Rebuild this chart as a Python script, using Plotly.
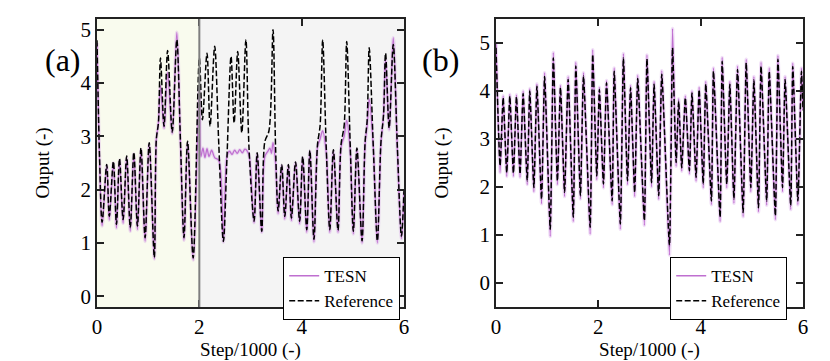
import plotly.graph_objects as go
from plotly.subplots import make_subplots

# ---------------- data ----------------
# Panel (a)
ref_a_x = [0.00, 0.05, 0.10, 0.19, 0.24, 0.32, 0.38, 0.44, 0.51, 0.58,
           0.65, 0.72, 0.79, 0.86, 0.94, 1.02, 1.12, 1.16, 1.20, 1.24,
           1.31, 1.38, 1.47, 1.56, 1.63, 1.70, 1.77, 1.88, 2.00, 2.06,
           2.15, 2.21, 2.30, 2.38, 2.47, 2.54, 2.62, 2.68, 2.75, 2.83,
           2.91, 2.97, 3.07, 3.13, 3.22, 3.28, 3.36, 3.44, 3.49, 3.54,
           3.61, 3.67, 3.74, 3.80, 3.88, 3.96, 4.02, 4.10, 4.16, 4.24,
           4.31, 4.36, 4.41, 4.48, 4.55, 4.62, 4.71, 4.77, 4.83, 4.88,
           4.95, 5.01, 5.08, 5.18, 5.24, 5.28, 5.32, 5.40, 5.48, 5.55,
           5.60, 5.64, 5.71, 5.79, 5.87, 5.95, 6.00]
ref_a_y = [4.80, 2.60, 1.39, 2.47, 1.50, 2.53, 1.35, 2.58, 1.44, 2.63,
           1.29, 2.70, 1.32, 2.78, 1.10, 2.88, 0.73, 2.95, 3.25, 4.47,
           3.19, 4.61, 3.08, 4.81, 2.94, 1.10, 2.91, 0.72, 4.47, 3.31,
           4.56, 3.19, 4.69, 2.85, 1.03, 2.60, 4.50, 3.25, 4.59, 3.07,
           4.81, 2.80, 1.41, 2.69, 1.22, 2.90, 3.10, 5.00, 2.80, 1.60,
           2.47, 1.50, 2.47, 1.47, 2.52, 1.41, 2.62, 1.25, 2.74, 1.07,
           2.85, 3.20, 4.81, 2.80, 1.25, 2.75, 1.24, 2.85, 3.20, 4.78,
           2.80, 1.22, 2.78, 1.04, 2.90, 3.30, 4.66, 2.80, 1.04, 2.90,
           3.40, 4.56, 3.16, 4.72, 2.80, 1.13, 2.00]

tesn_a_x = [0.00, 0.05, 0.10, 0.19, 0.24, 0.32, 0.38, 0.44, 0.51, 0.58,
            0.65, 0.72, 0.79, 0.86, 0.94, 1.02, 1.12, 1.16, 1.20, 1.24,
            1.31, 1.38, 1.47, 1.56, 1.63, 1.70, 1.77, 1.88, 2.00, 2.03,
            2.07, 2.11, 2.15, 2.19, 2.24, 2.30, 2.38, 2.47, 2.54, 2.59,
            2.64, 2.69, 2.74, 2.79, 2.84, 2.89, 2.94, 2.98, 3.07, 3.13,
            3.22, 3.28, 3.34, 3.38, 3.41, 3.44, 3.49, 3.54, 3.61, 3.67,
            3.74, 3.80, 3.88, 3.96, 4.02, 4.10, 4.16, 4.24, 4.31, 4.36,
            4.41, 4.48, 4.55, 4.62, 4.71, 4.77, 4.83, 4.88, 4.95, 5.01,
            5.08, 5.18, 5.24, 5.28, 5.32, 5.40, 5.48, 5.55, 5.60, 5.64,
            5.71, 5.79, 5.87, 5.95, 6.00]
tesn_a_y = [4.75, 2.55, 1.32, 2.45, 1.43, 2.50, 1.28, 2.55, 1.37, 2.60,
            1.22, 2.67, 1.25, 2.75, 1.03, 2.85, 0.70, 2.95, 3.25, 3.95,
            3.15, 4.20, 3.05, 4.95, 2.90, 1.05, 2.88, 0.68, 3.90, 2.62,
            2.78, 2.60, 2.77, 2.62, 2.74, 2.60, 2.55, 1.02, 2.62, 2.72,
            2.66, 2.74, 2.68, 2.75, 2.69, 2.76, 2.72, 2.60, 1.38, 2.67,
            1.20, 2.62, 2.72, 2.78, 2.68, 2.88, 2.50, 1.55, 2.45, 1.45,
            2.45, 1.42, 2.50, 1.36, 2.60, 1.20, 2.72, 1.02, 2.80, 2.95,
            3.10, 2.70, 1.20, 2.72, 1.20, 2.80, 3.00, 3.30, 2.70, 1.17,
            2.76, 1.00, 2.85, 3.20, 3.70, 2.80, 1.00, 2.88, 3.40, 4.45,
            3.12, 4.85, 2.75, 1.08, 1.95]

# Panel (b)
step_b = [0.00, 0.08, 0.14, 0.21, 0.27, 0.34, 0.40, 0.47, 0.53, 0.61,
          0.66, 0.74, 0.80, 0.89, 0.95, 1.06, 1.12, 1.20, 1.26, 1.34,
          1.41, 1.51, 1.56, 1.65, 1.71, 1.84, 1.89, 1.97, 2.02, 2.10,
          2.16, 2.27, 2.31, 2.43, 2.49, 2.57, 2.63, 2.71, 2.77, 2.90,
          2.95, 3.04, 3.09, 3.18, 3.24, 3.39, 3.45, 3.52, 3.57, 3.63,
          3.70, 3.78, 3.83, 3.91, 3.97, 4.05, 4.10, 4.21, 4.25, 4.38,
          4.42, 4.51, 4.57, 4.65, 4.72, 4.83, 4.89, 4.98, 5.04, 5.13,
          5.18, 5.29, 5.34, 5.46, 5.51, 5.60, 5.65, 5.76, 5.80, 5.90,
          5.97, 6.00]
ref_b = [4.90, 2.44, 3.86, 2.30, 3.89, 2.29, 3.88, 2.27, 3.95, 2.13,
         4.00, 1.99, 4.10, 1.75, 4.30, 1.12, 4.69, 2.13, 4.07, 1.89,
         4.24, 1.37, 4.52, 1.82, 4.31, 1.16, 4.76, 2.23, 4.03, 2.06,
         4.17, 1.71, 4.41, 1.23, 4.69, 2.13, 4.07, 1.89, 4.26, 1.30,
         4.67, 2.09, 4.14, 1.82, 4.35, 0.78, 4.90, 2.51, 3.79, 2.40,
         3.86, 2.34, 3.96, 2.20, 4.03, 2.06, 4.14, 1.71, 4.41, 1.37,
         4.62, 2.06, 4.14, 1.75, 4.45, 1.47, 4.59, 1.99, 4.23, 1.57,
         4.52, 1.71, 4.41, 1.40, 4.66, 1.99, 4.24, 1.61, 4.51, 1.71,
         4.41, 3.60]
tesn_b = [5.00, 2.30, 3.90, 2.22, 3.93, 2.22, 3.92, 2.20, 4.00, 2.05,
          4.05, 1.90, 4.15, 1.65, 4.38, 0.97, 4.80, 2.05, 4.12, 1.80,
          4.30, 1.28, 4.60, 1.75, 4.38, 1.02, 4.86, 2.15, 4.08, 1.98,
          4.22, 1.63, 4.48, 1.12, 4.78, 2.05, 4.12, 1.80, 4.33, 1.20,
          4.75, 2.00, 4.20, 1.74, 4.42, 0.58, 5.30, 2.43, 3.84, 2.33,
          3.90, 2.27, 4.00, 2.12, 4.08, 1.98, 4.20, 1.63, 4.48, 1.28,
          4.70, 1.98, 4.20, 1.66, 4.52, 1.38, 4.66, 1.90, 4.30, 1.48,
          4.60, 1.62, 4.48, 1.32, 4.74, 1.90, 4.30, 1.53, 4.58, 1.63,
          4.48, 3.60]

x_ticks = [0, 2, 4, 6]
y_ticks = [0, 1, 2, 3, 4, 5]

# ---------------- styling ----------------
FONT = "Times New Roman, Liberation Serif, DejaVu Serif, serif"
PURPLE = "#bf6fd0"
BAND = "rgba(210,150,228,0.30)"
OFF = 8                       # default page margin of the html body
W, H = 830 - OFF, 361 - OFF   # figure size so it fits the window


def px_x(p):
    return (p - OFF) / W


def px_y(p):
    return 1 - (p - OFF) / H


fig = make_subplots(rows=1, cols=2)


def add_panel(col, tx, ty, rx, ry, legend, smooth):
    fig.add_trace(go.Scatter(x=tx, y=ty, mode="lines",
                             line=dict(color=BAND, width=3.5, shape="spline", smoothing=smooth),
                             showlegend=False, hoverinfo="skip"), row=1, col=col)
    fig.add_trace(go.Scatter(x=tx, y=ty, mode="lines", name="TESN",
                             line=dict(color=PURPLE, width=1.3, shape="spline", smoothing=smooth),
                             legend=legend), row=1, col=col)
    fig.add_trace(go.Scatter(x=rx, y=ry, mode="lines", name="Reference",
                             line=dict(color="black", width=1.5, dash="6px,2.5px",
                                       shape="spline", smoothing=smooth),
                             legend=legend), row=1, col=col)


add_panel(1, tesn_a_x, tesn_a_y, ref_a_x, ref_a_y, "legend", 0.9)
add_panel(2, step_b, tesn_b, step_b, ref_b, "legend2", 0.5)

axis_common = dict(showline=True, linecolor="#222", linewidth=1.5, mirror="ticks",
                   ticks="inside", ticklen=7, tickwidth=1.5, tickcolor="#222",
                   showgrid=False, zeroline=False,
                   tickfont=dict(family=FONT, size=21, color="black"))

fig.update_xaxes(**axis_common, range=[0, 6], tickvals=x_ticks,
                 title=dict(text="Step/1000 (-)", font=dict(family=FONT, size=19, color="black"),
                            standoff=0))
fig.update_yaxes(**axis_common, tickvals=y_ticks,
                 title=dict(text="Ouput (-)", font=dict(family=FONT, size=19, color="black"),
                            standoff=26))
fig.update_layout(
    xaxis=dict(domain=[px_x(97), px_x(404)]),
    xaxis2=dict(domain=[px_x(496), px_x(803)]),
    yaxis=dict(domain=[px_y(307), px_y(19)], range=[-0.2, 5.2]),
    yaxis2=dict(domain=[px_y(307), px_y(19)], range=[-0.5, 5.5]),
)

# backgrounds for panel (a)
fig.add_shape(type="rect", xref="x", yref="y domain", x0=0, x1=2, y0=0, y1=1,
              fillcolor="#f9fbee", line_width=0, layer="below")
fig.add_shape(type="rect", xref="x", yref="y domain", x0=2, x1=6, y0=0, y1=1,
              fillcolor="#f4f4f4", line_width=0, layer="below")
fig.add_shape(type="line", xref="x", yref="y domain", x0=2, x1=2, y0=0, y1=1,
              line=dict(color="#7f7f7f", width=2), layer="above")

# panel labels
fig.add_annotation(text="(a)", xref="paper", yref="paper", x=px_x(43), y=px_y(40),
                   showarrow=False, font=dict(family=FONT, size=32, color="black"))
fig.add_annotation(text="(b)", xref="paper", yref="paper", x=px_x(440), y=px_y(40),
                   showarrow=False, font=dict(family=FONT, size=32, color="black"))

leg_common = dict(bgcolor="white", bordercolor="black", borderwidth=1.2,
                  font=dict(family=FONT, size=17, color="black"),
                  xanchor="left", yanchor="top", itemwidth=30,
                  tracegroupgap=0)
fig.update_layout(
    legend=dict(**leg_common, x=px_x(283), y=px_y(257)),
    legend2=dict(**leg_common, x=px_x(670), y=px_y(257)),
    width=W, height=H,
    margin=dict(l=0, r=0, t=0, b=0, autoexpand=False),
    paper_bgcolor="white", plot_bgcolor="white",
    font=dict(family=FONT, color="black"),
)

fig.write_html("out.html")
